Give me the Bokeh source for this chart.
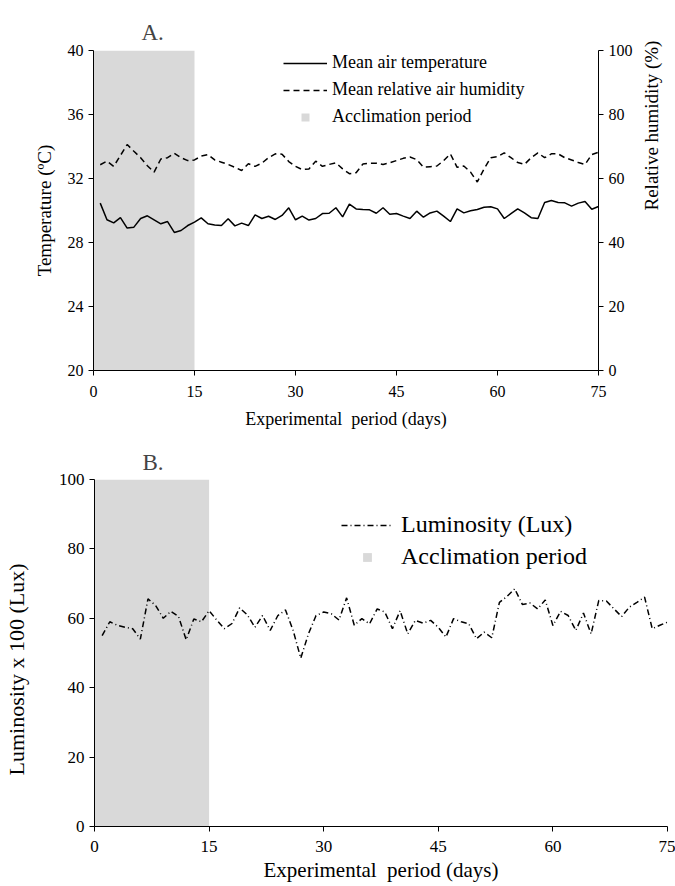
from math import pi
from bokeh.plotting import figure
from bokeh.models import Range1d, LinearAxis, FixedTicker, BoxAnnotation, Legend, LegendItem
from bokeh.embed import file_html
from bokeh.resources import INLINE

# ---------------- data ----------------
days = list(range(1, 76))

temperature = [30.46, 29.42, 29.23, 29.56, 28.90, 28.96, 29.50, 29.67, 29.42, 29.17,
               29.31, 28.63, 28.75, 29.06, 29.27, 29.54, 29.17, 29.10, 29.06, 29.48,
               29.04, 29.21, 29.06, 29.73, 29.50, 29.64, 29.44, 29.69, 30.17, 29.42,
               29.65, 29.40, 29.50, 29.81, 29.83, 30.17, 29.60, 30.40, 30.10, 30.06,
               30.04, 29.83, 30.17, 29.77, 29.81, 29.65, 29.50, 29.96, 29.58, 29.85,
               29.96, 29.65, 29.31, 30.10, 29.85, 29.98, 30.06, 30.20, 30.23, 30.10,
               29.50, 29.80, 30.10, 29.85, 29.55, 29.50, 30.50, 30.62, 30.50, 30.48,
               30.27, 30.46, 30.56, 30.08, 30.25]

humidity = [64.3, 65.4, 63.8, 67.2, 70.6, 68.5, 66.5, 64.0, 62.0, 66.1,
            66.5, 67.9, 66.5, 65.6, 65.8, 67.0, 67.5, 65.8, 65.1, 64.4,
            63.5, 62.5, 64.6, 63.8, 64.8, 66.5, 67.7, 67.6, 65.3, 63.8,
            62.8, 63.0, 65.4, 63.8, 64.4, 64.9, 63.0, 61.5, 61.8, 64.5,
            64.8, 64.8, 64.4, 64.9, 65.6, 66.3, 66.7, 65.9, 63.5, 63.7,
            63.9, 65.6, 67.7, 63.5, 63.9, 62.0, 58.9, 63.0, 66.5, 66.8,
            68.0, 66.5, 65.0, 64.4, 66.5, 68.0, 66.5, 67.7, 67.7, 66.5,
            65.8, 65.0, 64.4, 67.5, 68.2]

luminosity = [55.0, 59.0, 58.0, 57.4, 57.0, 54.0, 65.6, 63.7, 60.0, 62.0,
              60.5, 53.8, 59.8, 59.0, 62.2, 59.5, 57.0, 58.5, 63.0, 61.0,
              57.4, 60.8, 56.5, 60.8, 62.4, 56.5, 48.5, 55.5, 60.8, 61.8,
              61.3, 59.5, 65.9, 58.0, 59.9, 58.4, 62.7, 61.8, 57.0, 62.2,
              55.5, 59.4, 58.6, 59.4, 57.4, 54.6, 59.9, 59.0, 58.4, 54.1,
              56.0, 54.4, 64.6, 66.3, 68.5, 64.0, 64.4, 62.7, 65.3, 57.9,
              62.0, 60.8, 56.5, 61.5, 55.5, 65.1, 65.0, 62.7, 60.5, 63.2,
              64.6, 66.1, 57.0, 58.0, 58.9]

acclimation_start = 0
acclimation_end = 15

x_ticks = [0, 15, 30, 45, 60, 75]
temp_ticks = [20, 24, 28, 32, 36, 40]
hum_ticks = [0, 20, 40, 60, 80, 100]
lux_ticks = [0, 20, 40, 60, 80, 100]

FONT = "Liberation Serif"
GRAY = "#d9d9d9"
XLABEL = "Experimental\u00a0 period (days)"
NBSP = "\u00a0"


def style_axis(ax, tick_size, label_size, label_standoff, tick_standoff=5):
    ax.axis_line_color = "black"
    ax.axis_line_width = 1
    ax.major_tick_line_color = "black"
    ax.major_tick_out = 5
    ax.major_tick_in = 0
    ax.minor_tick_line_color = None
    ax.major_label_text_font = FONT
    ax.major_label_text_font_size = tick_size
    ax.major_label_text_color = "black"
    ax.major_label_standoff = tick_standoff
    ax.axis_label_text_font = FONT
    ax.axis_label_text_font_size = label_size
    ax.axis_label_text_font_style = "normal"
    ax.axis_label_text_color = "black"
    ax.axis_label_standoff = label_standoff


def style_title(p, text, offset, standoff):
    p.title.text = text
    p.title.text_font = FONT
    p.title.text_font_size = "23px"
    p.title.text_font_style = "normal"
    p.title.align = "left"
    p.title.offset = offset
    p.title.standoff = standoff


# ---------------- panel A ----------------
pA = figure(width=675, height=434, x_range=Range1d(0, 75), y_range=Range1d(20, 40),
            output_backend="svg", toolbar_location=None,
            min_border_left=93, min_border_right=76, min_border_top=50, min_border_bottom=64)
pA.extra_y_ranges = {"hum": Range1d(0, 100)}
pA.outline_line_color = None
pA.xgrid.visible = False
pA.ygrid.visible = False

pA.add_layout(BoxAnnotation(left=acclimation_start, right=acclimation_end,
                            fill_color=GRAY, fill_alpha=1, line_color=None, level="underlay"))

rT = pA.line(days, temperature, line_color="black", line_width=1.5)
rH = pA.line(days, humidity, y_range_name="hum", line_color="black", line_width=1.5,
             line_dash="6 4")
rSqA = pA.scatter([-50], [30], marker="square", size=9, fill_color=GRAY, line_color=None)

pA.xaxis.ticker = FixedTicker(ticks=x_ticks)
pA.yaxis.ticker = FixedTicker(ticks=temp_ticks)
pA.xaxis.axis_label = XLABEL
pA.yaxis.axis_label = "Temperature (ºC)"
style_axis(pA.xaxis[0], "16px", "18px", 9, tick_standoff=10)
style_axis(pA.yaxis[0], "16px", "19px", 10)

axR = LinearAxis(y_range_name="hum", ticker=FixedTicker(ticks=hum_ticks),
                 axis_label="Relative humidity (%)")
style_axis(axR, "16px", "19px", 16)
if "axis_label_orientation" in axR.properties():
    try:
        axR.axis_label_orientation = pi / 2
    except Exception:
        pass
pA.add_layout(axR, "right")

legA = Legend(items=[LegendItem(label="Mean air temperature", renderers=[rT]),
                     LegendItem(label="Mean relative air humidity", renderers=[rH]),
                     LegendItem(label="Acclimation period", renderers=[rSqA])],
              location=(190, 243), border_line_color=None, background_fill_alpha=0,
              padding=0, margin=0, spacing=6, glyph_width=44, glyph_height=20,
              label_height=20, label_standoff=5, label_text_font=FONT,
              label_text_font_size="18px", label_text_color="black")
pA.add_layout(legA)
style_title(pA, "A.", 48, 12)

# ---------------- panel B ----------------
pB = figure(width=675, height=452, x_range=Range1d(0, 75), y_range=Range1d(0, 100),
            output_backend="svg", toolbar_location=None,
            min_border_left=93, min_border_right=8, min_border_top=45, min_border_bottom=60)
pB.outline_line_color = None
pB.xgrid.visible = False
pB.ygrid.visible = False

pB.add_layout(BoxAnnotation(left=acclimation_start, right=acclimation_end,
                            fill_color=GRAY, fill_alpha=1, line_color=None, level="underlay"))

rL = pB.line(days, luminosity, line_color="black", line_width=1.5, line_dash="6 3 1 3")
rSqB = pB.scatter([-50], [50], marker="square", size=9, fill_color=GRAY, line_color=None)

pB.xaxis.ticker = FixedTicker(ticks=x_ticks)
pB.yaxis.ticker = FixedTicker(ticks=lux_ticks)
pB.xaxis.axis_label = XLABEL
# trailing no-break spaces push the visible title slightly below centre, as in the original
pB.yaxis.axis_label = "Luminosity x 100 (Lux)" + NBSP * 6
style_axis(pB.xaxis[0], "17px", "21px", 3, tick_standoff=9)
style_axis(pB.yaxis[0], "17px", "22px", 27)

legB = Legend(items=[LegendItem(label="Luminosity (Lux)", renderers=[rL]),
                     LegendItem(label="Acclimation period", renderers=[rSqB])],
              location=(247, 256), border_line_color=None, background_fill_alpha=0,
              padding=0, margin=0, spacing=5, glyph_width=52, glyph_height=22,
              label_height=22, label_standoff=8, label_text_font=FONT,
              label_text_font_size="24px", label_text_color="black")
pB.add_layout(legB)
style_title(pB, "B.", 48, 10)

open("out.html", "w").write(file_html([pA, pB], INLINE))
